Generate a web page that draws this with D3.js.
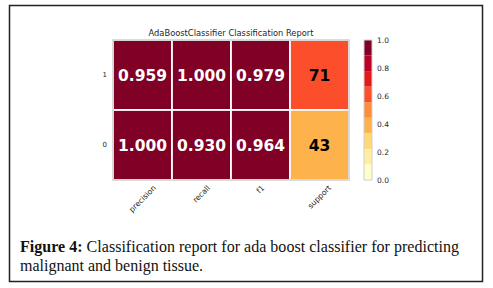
<!DOCTYPE html>
<html lang="en">
<head>
<meta charset="UTF-8">
<title>AdaBoostClassifier Classification Report</title>
<script src="https://d3js.org/d3.v7.min.js"></script>
<style>
  body { margin: 0; background: #fff; }
  svg { display: block; }
  .mpl { font-family: 'DejaVu Sans', sans-serif; fill: #262626; }
  .caption { font-family: 'Liberation Serif', 'DejaVu Serif', serif; fill: #111; }
</style>
</head>
<body>
<div id="chart"></div>
<script>
// values
const classes = ["1", "0"];
const metrics = ["precision", "recall", "f1", "support"];
const precision = [0.959, 1.000];
const recall = [1.000, 0.930];
const f1 = [0.979, 0.964];
const support = [71, 43];
const cbarTicks = [0.0, 0.2, 0.4, 0.6, 0.8, 1.0];

const W = 493, H = 288;
const svg = d3.select("#chart").append("svg")
  .attr("width", W).attr("height", H);

// outer frame of the figure
svg.append("rect")
  .attr("x", 9.5).attr("y", 5.5).attr("width", 473).attr("height", 276)
  .attr("fill", "none").attr("stroke", "#222").attr("stroke-width", 1.5);

const x = d3.scaleBand().domain(metrics).range([113, 349]);
const y = d3.scaleBand().domain(classes).range([40, 180]);
const color = d3.scaleQuantize().domain([0, 1]).range(d3.schemeYlOrRd[9]);

const total = d3.sum(support);
const cells = [];
classes.forEach((c, i) => {
  cells.push({ cls: c, metric: "precision", value: precision[i], label: precision[i].toFixed(3) });
  cells.push({ cls: c, metric: "recall", value: recall[i], label: recall[i].toFixed(3) });
  cells.push({ cls: c, metric: "f1", value: f1[i], label: f1[i].toFixed(3) });
  cells.push({ cls: c, metric: "support", value: support[i] / total, label: String(support[i]) });
});

// title
svg.append("text").attr("class", "mpl")
  .attr("x", (x.range()[0] + x.range()[1]) / 2).attr("y", 35.5)
  .attr("text-anchor", "middle").attr("font-size", 8.3)
  .text("AdaBoostClassifier Classification Report");

// cells
const g = svg.append("g");
g.selectAll("rect.cell").data(cells).join("rect")
  .attr("class", "cell")
  .attr("x", d => x(d.metric)).attr("y", d => y(d.cls))
  .attr("width", x.bandwidth()).attr("height", y.bandwidth())
  .attr("fill", d => color(d.value))
  .attr("stroke", "#fff").attr("stroke-width", 1.8);

g.selectAll("text.val").data(cells).join("text")
  .attr("class", "val")
  .attr("x", d => x(d.metric) + x.bandwidth() / 2)
  .attr("y", d => y(d.cls) + y.bandwidth() / 2)
  .attr("dy", "0.36em")
  .attr("text-anchor", "middle")
  .attr("font-family", "'DejaVu Sans', sans-serif")
  .attr("font-weight", "bold").attr("font-size", 15.5)
  .attr("fill", d => d.value > 0.7 ? "#fff" : "#000")
  .text(d => d.label);

svg.append("rect")
  .attr("x", x.range()[0]).attr("y", y.range()[0])
  .attr("width", x.range()[1] - x.range()[0]).attr("height", y.range()[1] - y.range()[0])
  .attr("fill", "none").attr("stroke", "#cfcfcf").attr("stroke-width", 1.5);

// row labels
svg.selectAll("text.row").data(classes).join("text")
  .attr("class", "mpl row")
  .attr("x", 107).attr("y", d => y(d) + y.bandwidth() / 2)
  .attr("dy", "0.35em").attr("text-anchor", "end").attr("font-size", 7)
  .text(d => d);

// rotated column labels
svg.selectAll("text.col").data(metrics).join("text")
  .attr("class", "mpl col")
  .attr("font-size", 7.6)
  .attr("text-anchor", "middle")
  .attr("dominant-baseline", "central")
  .text(d => d)
  .each(function(d) {
    const L = this.getComputedTextLength();
    const cx = x(d) + x.bandwidth() / 2;
    const cy = 184 + (L + 7.6) * Math.SQRT1_2 / 2;
    d3.select(this).attr("x", cx).attr("y", cy)
      .attr("transform", `rotate(-45,${cx},${cy})`);
  });

// colorbar
const cy = d3.scaleLinear().domain([0, 1]).range([180, 40]);
const bins = color.range().map(c => color.invertExtent(c));
svg.selectAll("rect.cb").data(bins).join("rect")
  .attr("class", "cb")
  .attr("x", 364).attr("width", 8)
  .attr("y", d => cy(d[1])).attr("height", d => cy(d[0]) - cy(d[1]))
  .attr("fill", d => color((d[0] + d[1]) / 2));
svg.append("rect")
  .attr("x", 364).attr("y", 40).attr("width", 8).attr("height", 140)
  .attr("fill", "none").attr("stroke", "#cfcfcf").attr("stroke-width", 1);

svg.selectAll("text.cbt").data(cbarTicks).join("text")
  .attr("class", "mpl cbt")
  .attr("x", 377).attr("y", d => cy(d)).attr("dy", "0.35em")
  .attr("font-size", 7.5)
  .text(d => d.toFixed(1));

// caption
const cap = svg.append("text").attr("class", "caption").attr("font-size", 16);
const line1 = cap.append("tspan").attr("x", 20).attr("y", 252)
  .attr("textLength", 439).attr("lengthAdjust", "spacing");
line1.append("tspan").attr("font-weight", "bold").text("Figure 4:");
line1.append("tspan").text(" Classification report for ada boost classifier for predicting");
cap.append("tspan").attr("x", 20).attr("y", 271).text("malignant and benign tissue.");
</script>
</body>
</html>
